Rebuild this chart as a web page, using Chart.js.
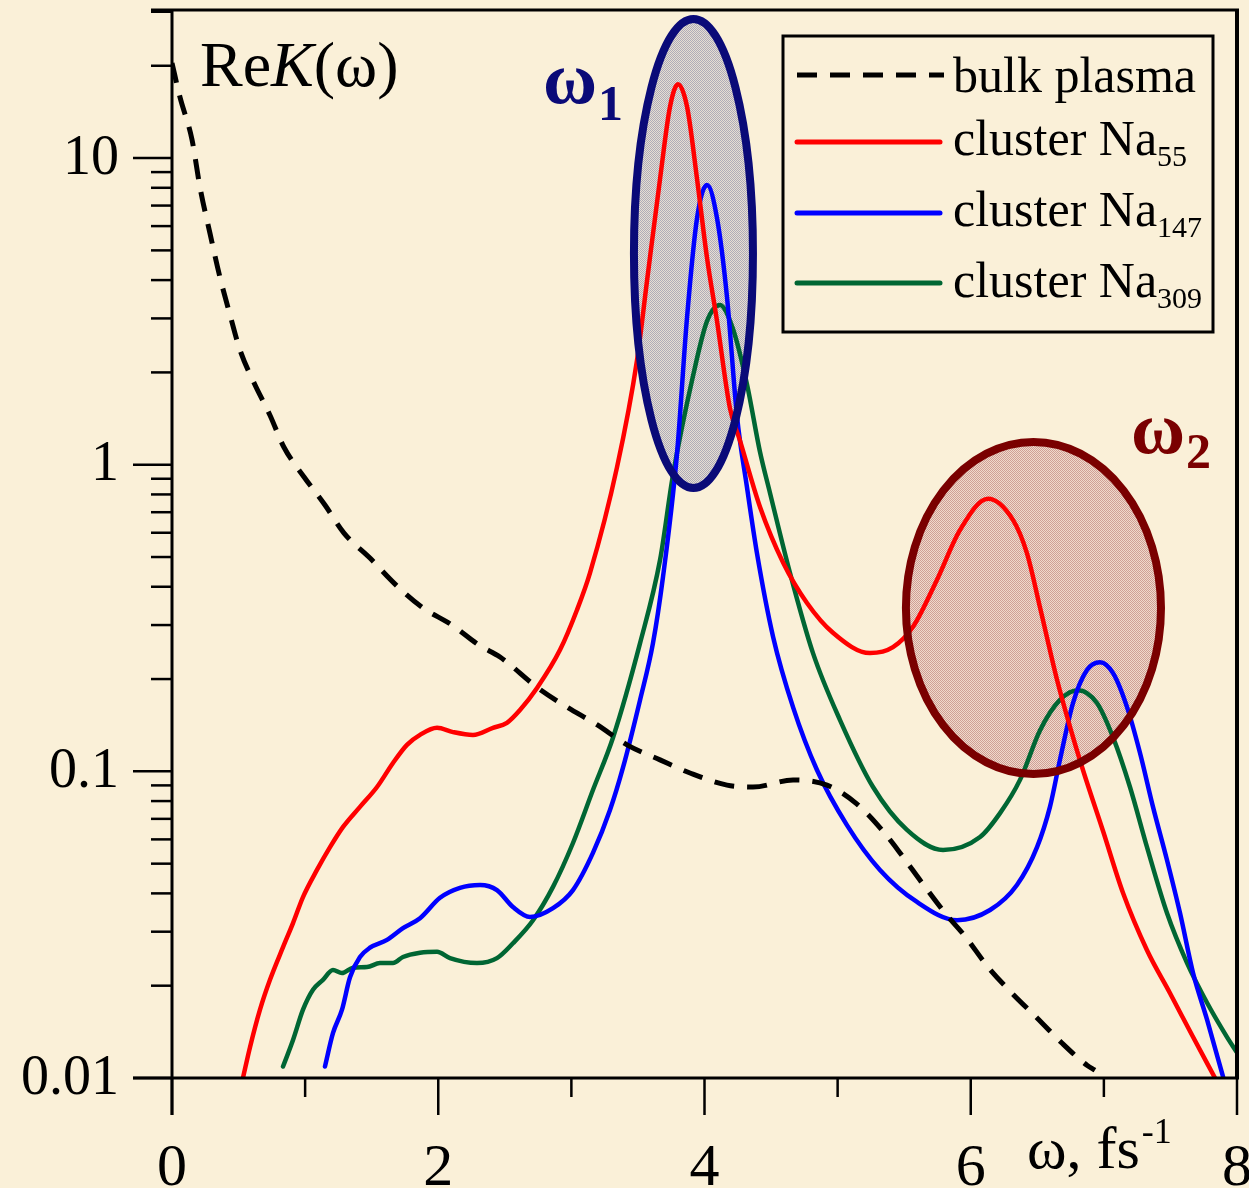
<!DOCTYPE html>
<html><head><meta charset="utf-8">
<script src="https://cdn.jsdelivr.net/npm/chart.js@4/dist/chart.umd.min.js"></script>
<style>html,body{margin:0;padding:0;background:#FAF0D8;overflow:hidden}#wrap{width:1249px;height:1188px}</style>
</head><body><div id="wrap"><canvas id="c" width="1249" height="1188"></canvas></div>
<script>
// ---- data ----
const bulkX = [0,0.06,0.15,0.21,0.285,0.36,0.436,0.51,0.616,0.736,0.841,0.992,1.149,1.292,1.487,1.668,1.878,2.103,2.306,2.464,2.742,2.967,3.192,3.418,3.666,3.891,4.169,4.364,4.665,4.92,5.146,5.341,5.469,5.634,5.807,5.957,6.13,6.31,6.498,6.685,6.873,6.933];
const bulkY = [20.4,15.8,11.5,8.04,5.69,4.09,3.08,2.37,1.85,1.45,1.14,0.912,0.739,0.598,0.496,0.411,0.343,0.300,0.258,0.236,0.188,0.162,0.142,0.122,0.109,0.0988,0.0902,0.0889,0.0937,0.0902,0.0782,0.0638,0.0542,0.0433,0.0345,0.0290,0.0230,0.0189,0.0157,0.0130,0.0110,0.0106];

const na55X = [0.533,0.586,0.661,0.736,0.834,0.909,0.984,1.089,1.187,1.285,1.412,1.540,1.660,1.765,1.863,1.991,2.111,2.261,2.411,2.516,2.614,2.742,2.915,3.042,3.140,3.343,3.493,3.568,3.666,3.741,3.801,3.869,3.944,4.019,4.094,4.191,4.266,4.417,4.592,4.770,4.965,5.243,5.416,5.566,5.746,5.919,6.130,6.317,6.422,6.520,6.648,6.745,6.843,6.993,7.144,7.324,7.497,7.670,7.835];
const na55Y = [0.0100,0.0126,0.0167,0.0209,0.0267,0.0320,0.0389,0.0477,0.0566,0.0659,0.0766,0.0889,0.1065,0.122,0.1315,0.1387,0.1343,0.1315,0.1387,0.144,0.1585,0.187,0.249,0.336,0.444,0.982,2.19,3.97,8.55,14.7,17.4,14.7,8.55,4.72,2.94,1.53,1.20,0.728,0.478,0.354,0.283,0.243,0.254,0.296,0.421,0.612,0.775,0.661,0.515,0.343,0.199,0.140,0.101,0.0640,0.0401,0.0261,0.0189,0.0136,0.0100];

const na147X = [1.149,1.209,1.277,1.337,1.412,1.487,1.615,1.735,1.863,2.013,2.163,2.314,2.441,2.561,2.689,2.862,3.012,3.162,3.290,3.388,3.516,3.613,3.688,3.793,3.869,3.944,4.019,4.094,4.169,4.244,4.319,4.394,4.515,4.665,4.845,5.070,5.318,5.596,5.897,6.145,6.347,6.498,6.595,6.670,6.768,6.873,6.971,7.069,7.174,7.271,7.369,7.474,7.572,7.670,7.775,7.895];
const na147Y = [0.0109,0.0140,0.0167,0.0213,0.0248,0.0266,0.0282,0.0308,0.0332,0.0387,0.0417,0.0426,0.0410,0.0361,0.0335,0.0358,0.0410,0.0542,0.0748,0.103,0.171,0.262,0.430,1.08,3.03,6.37,8.17,6.37,3.52,1.44,0.845,0.515,0.275,0.162,0.101,0.0668,0.0477,0.0375,0.0327,0.0353,0.0426,0.0566,0.0766,0.109,0.167,0.214,0.227,0.209,0.162,0.115,0.0766,0.0514,0.0345,0.0220,0.0155,0.0101];

const na309X = [0.834,0.909,0.984,1.059,1.134,1.209,1.277,1.360,1.465,1.562,1.660,1.735,1.863,1.991,2.088,2.291,2.441,2.561,2.712,2.862,3.012,3.162,3.313,3.516,3.666,3.763,3.914,4.019,4.116,4.214,4.319,4.417,4.492,4.642,4.815,5.018,5.266,5.521,5.792,6.070,6.220,6.370,6.520,6.670,6.806,6.948,7.069,7.196,7.324,7.474,7.625,7.775,7.925,8.0];
const na309Y = [0.0109,0.0133,0.0167,0.0194,0.0209,0.0225,0.0220,0.0229,0.0230,0.0237,0.0237,0.0248,0.0256,0.0258,0.0246,0.0237,0.0246,0.0275,0.0327,0.0420,0.0584,0.0869,0.129,0.262,0.489,0.925,1.95,2.94,3.32,2.77,1.83,1.10,0.809,0.444,0.243,0.147,0.0889,0.0644,0.0554,0.0611,0.0731,0.0938,0.136,0.171,0.184,0.167,0.129,0.0889,0.0566,0.0345,0.0237,0.0176,0.0136,0.0121];

const xMajorTicks = [0,2,4,6,8];
const xMinorTicks = [1,3,5,7];
const xTickLabels = ['0','2','4','6','8'];
const yMajorTicks = [0.01,0.1,1,10];
const yTickLabels = ['0.01','0.1','1','10'];
const legendNames = ['bulk plasma','cluster Na','cluster Na','cluster Na'];
const legendSubs = ['','55','147','309'];
const yAxisTitle = ['Re','K','(\u03C9)'];
const xAxisTitle = ['\u03C9, fs','-1'];
const regionNames = ['\u03C9','\u03C9'];
const regionSubs = ['1','2'];
// highlighted resonance regions, in data units (centre x, half width x, top y, bottom y)
const region1 = {cx:3.917, hw:0.447, top:28.4, bottom:0.839};
const region2 = {cx:6.471, hw:0.958, top:1.186, bottom:0.098};

// ---- styles ----
const SERIF = '"Liberation Serif","Times New Roman",serif';
const BG = '#FAF0D8';
const NAVY = '#0A0A78';
const MAROON = '#7A0000';
const COLORS = ['#000000','#FF0000','#0000FF','#006633'];

function pts(xs, ys){ return xs.map((x,i)=>({x:x, y:ys[i]})); }

function makePattern(ctx, a, b){
  const c = document.createElement('canvas'); c.width = 2; c.height = 2;
  const g = c.getContext('2d');
  g.fillStyle = b; g.fillRect(0,0,2,2);
  g.fillStyle = a; g.fillRect(0,0,1,1); g.fillRect(1,1,1,1);
  return ctx.createPattern(c,'repeat');
}

function ellipseGeom(chart, r){
  const xs = chart.scales.x, ys = chart.scales.y;
  const cx = xs.getPixelForValue(r.cx);
  const rx = xs.getPixelForValue(r.cx + r.hw) - cx;
  const t = ys.getPixelForValue(r.top), b = ys.getPixelForValue(r.bottom);
  return {cx:cx, cy:(t+b)/2, rx:rx, ry:(b-t)/2};
}

function runs(ctx, x, y, list){
  let cx = x;
  list.forEach(r=>{
    ctx.font = r.font;
    ctx.fillText(r.text, cx, y + (r.dy||0));
    cx += ctx.measureText(r.text).width + (r.gap||0);
  });
}

const bgPlugin = {
  id:'bg',
  beforeDraw(chart){
    const ctx = chart.ctx;
    ctx.save(); ctx.fillStyle = BG; ctx.fillRect(0,0,chart.width,chart.height); ctx.restore();
  }
};

const regionPlugin = {
  id:'regions',
  beforeDatasetsDraw(chart){
    const ctx = chart.ctx;
    const fills = [makePattern(ctx,'#B0ACB8','#E6DED3'), makePattern(ctx,'#CFA096','#F0D9CB')];
    [region1, region2].forEach((r,i)=>{
      const g = ellipseGeom(chart, r);
      ctx.save();
      ctx.beginPath(); ctx.ellipse(g.cx,g.cy,g.rx,g.ry,0,0,Math.PI*2);
      ctx.fillStyle = fills[i]; ctx.fill();
      ctx.restore();
    });
  },
  afterDatasetsDraw(chart){
    const ctx = chart.ctx;
    const strokes = [NAVY, MAROON];
    [region1, region2].forEach((r,i)=>{
      const g = ellipseGeom(chart, r);
      ctx.save();
      ctx.beginPath(); ctx.ellipse(g.cx,g.cy,g.rx,g.ry,0,0,Math.PI*2);
      ctx.strokeStyle = strokes[i]; ctx.lineWidth = 8; ctx.stroke();
      ctx.restore();
    });
  }
};

const axesPlugin = {
  id:'axes',
  afterDraw(chart){
    const ctx = chart.ctx, xs = chart.scales.x, ys = chart.scales.y, a = chart.chartArea;
    ctx.save();
    ctx.strokeStyle = '#000'; ctx.fillStyle = '#000'; ctx.lineCap = 'butt';
    // frame
    ctx.lineWidth = 3;
    ctx.beginPath(); ctx.moveTo(a.left-21, a.top); ctx.lineTo(a.right+2, a.top); ctx.stroke();
    ctx.lineWidth = 4;
    ctx.beginPath(); ctx.moveTo(a.right, a.top); ctx.lineTo(a.right, a.bottom); ctx.stroke();
    ctx.lineWidth = 3;
    ctx.beginPath(); ctx.moveTo(a.left, a.top); ctx.lineTo(a.left, a.bottom+37); ctx.stroke();
    ctx.beginPath(); ctx.moveTo(a.left-39, a.bottom); ctx.lineTo(a.right+2, a.bottom); ctx.stroke();
    // x ticks
    ctx.lineWidth = 2.5;
    xMajorTicks.forEach(v=>{ const p = xs.getPixelForValue(v); ctx.beginPath(); ctx.moveTo(p,a.bottom); ctx.lineTo(p,a.bottom+37); ctx.stroke(); });
    xMinorTicks.forEach(v=>{ const p = xs.getPixelForValue(v); ctx.beginPath(); ctx.moveTo(p,a.bottom); ctx.lineTo(p,a.bottom+19); ctx.stroke(); });
    // y ticks
    const ymax = ys.max;
    for (let d=-2; d<=1; d++){
      for (let k=1; k<=9; k++){
        const v = k*Math.pow(10,d);
        if (v > ymax*1.0001) continue;
        const p = ys.getPixelForValue(v);
        const len = (k===1) ? 39 : 21;
        ctx.beginPath(); ctx.moveTo(a.left-len,p); ctx.lineTo(a.left,p); ctx.stroke();
      }
    }
    // tick labels
    ctx.font = '60px '+SERIF; ctx.textAlign = 'center'; ctx.textBaseline = 'alphabetic';
    xMajorTicks.forEach((v,i)=>{ ctx.fillText(xTickLabels[i], xs.getPixelForValue(v), 1185); });
    ctx.font = '56px '+SERIF; ctx.textAlign = 'right'; ctx.textBaseline = 'middle';
    yMajorTicks.forEach((v,i)=>{ ctx.fillText(yTickLabels[i], 119, ys.getPixelForValue(v)+1); });
    // axis titles
    ctx.textAlign = 'left'; ctx.textBaseline = 'alphabetic';
    runs(ctx, 200, 86, [
      {text:yAxisTitle[0], font:'64px '+SERIF},
      {text:yAxisTitle[1], font:'italic 64px '+SERIF},
      {text:yAxisTitle[2], font:'64px '+SERIF}
    ]);
    runs(ctx, 1027, 1168, [
      {text:xAxisTitle[0], font:'60px '+SERIF, gap:2},
      {text:xAxisTitle[1], font:'36px '+SERIF, dy:-25}
    ]);
    // region labels
    ctx.fillStyle = NAVY;
    runs(ctx, 543, 103, [
      {text:regionNames[0], font:'bold 74px '+SERIF, gap:1},
      {text:regionSubs[0], font:'bold 50px '+SERIF, dy:17}
    ]);
    ctx.fillStyle = MAROON;
    runs(ctx, 1131, 453, [
      {text:regionNames[1], font:'bold 74px '+SERIF, gap:1},
      {text:regionSubs[1], font:'bold 50px '+SERIF, dy:15}
    ]);
    // legend
    ctx.strokeStyle = '#000'; ctx.lineWidth = 3;
    ctx.strokeRect(783, 36, 430, 296);
    const rowY = [75, 142, 213, 283];
    const baseY = [92, 155, 226, 297];
    chart.data.datasets.forEach((ds,i)=>{
      ctx.save();
      ctx.strokeStyle = ds.borderColor; ctx.lineWidth = 5; ctx.lineCap = i===0 ? 'butt' : 'round';
      ctx.setLineDash(ds.borderDash || []);
      ctx.beginPath(); ctx.moveTo(797, rowY[i]); ctx.lineTo(i===0 ? 944 : 940, rowY[i]); ctx.stroke();
      ctx.restore();
      ctx.fillStyle = '#000';
      runs(ctx, 953, baseY[i], [
        {text:legendNames[i], font:'50px '+SERIF},
        {text:legendSubs[i], font:'30px '+SERIF, dy:11}
      ]);
    });
    ctx.restore();
  }
};

const common = {pointRadius:0, pointHoverRadius:0, fill:false, cubicInterpolationMode:'monotone', borderCapStyle:'round', borderJoinStyle:'round'};

new Chart(document.getElementById('c').getContext('2d'), {
  type:'line',
  data:{ datasets:[
    Object.assign({label:legendNames[0], data:pts(bulkX,bulkY), borderColor:COLORS[0], borderWidth:5, borderDash:[20,13]}, common, {borderCapStyle:'butt'}),
    Object.assign({label:legendNames[1]+legendSubs[1], data:pts(na55X,na55Y), borderColor:COLORS[1], borderWidth:4.5}, common),
    Object.assign({label:legendNames[2]+legendSubs[2], data:pts(na147X,na147Y), borderColor:COLORS[2], borderWidth:4.5}, common),
    Object.assign({label:legendNames[3]+legendSubs[3], data:pts(na309X,na309Y), borderColor:COLORS[3], borderWidth:4.5}, common)
  ]},
  options:{
    responsive:false, animation:false, devicePixelRatio:1,
    layout:{padding:{left:172, right:12, top:10, bottom:110}},
    plugins:{legend:{display:false}, tooltip:{enabled:false}},
    events:[],
    scales:{
      x:{type:'linear', min:0, max:8, display:false},
      y:{type:'logarithmic', min:0.01, max:30.4, display:false}
    }
  },
  plugins:[bgPlugin, regionPlugin, axesPlugin]
});
</script>
</body></html>
